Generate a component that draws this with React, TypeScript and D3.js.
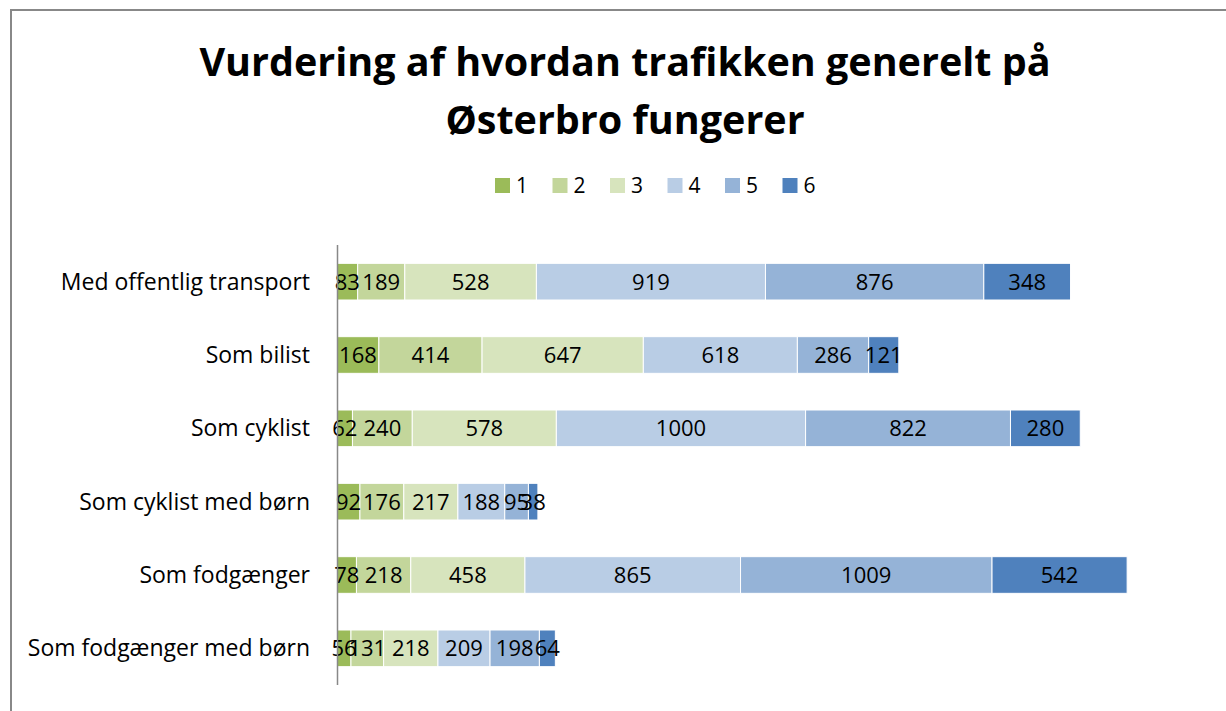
import { useEffect, useRef } from "react";
import * as d3 from "d3";

const categories = [
  "Med offentlig transport",
  "Som bilist",
  "Som cyklist",
  "Som cyklist med børn",
  "Som fodgænger",
  "Som fodgænger med børn",
];
const seriesNames = ["1", "2", "3", "4", "5", "6"];
const s1 = [83, 168, 62, 92, 78, 56];
const s2 = [189, 414, 240, 176, 218, 131];
const s3 = [528, 647, 578, 217, 458, 218];
const s4 = [919, 618, 1000, 188, 865, 209];
const s5 = [876, 286, 822, 95, 1009, 198];
const s6 = [348, 121, 280, 38, 542, 64];
const colors = ["#9bbb59", "#c3d69b", "#d7e4bd", "#b9cde5", "#95b3d7", "#4f81bd"];

const W = 1226;
const H = 711;
const FONT = "'Open Sans', Lato, sans-serif";

const App = () => {
  const ref = useRef<SVGSVGElement>(null);

  useEffect(() => {
    document.body.style.margin = "0";
    const svg = d3.select(ref.current);
    svg.selectAll("*").remove();

    // outer chart border (only top and left visible)
    svg.append("path")
      .attr("d", `M11,${H} L11,10 L${W},10`)
      .attr("fill", "none")
      .attr("stroke", "#888")
      .attr("stroke-width", 2);

    // title
    const title = svg.append("text")
      .attr("text-anchor", "middle")
      .attr("font-family", FONT)
      .attr("font-weight", "bold")
      .attr("font-size", 39.5)
      .attr("fill", "#000");
    title.append("tspan").attr("x", 625).attr("y", 76).text("Vurdering af hvordan trafikken generelt på");
    title.append("tspan").attr("x", 625).attr("y", 134).text("Østerbro fungerer");

    // legend
    const legend = svg.append("g").attr("transform", "translate(495,178)");
    seriesNames.forEach((name, i) => {
      const g = legend.append("g").attr("transform", `translate(${i * 57.5},0)`);
      g.append("rect").attr("width", 15).attr("height", 15).attr("fill", colors[i]);
      g.append("text")
        .attr("x", 21)
        .attr("y", 15)
        .attr("font-family", FONT)
        .attr("font-size", 21)
        .text(name);
    });

    const rows = categories.map((c, i) => ({
      cat: c,
      values: [s1[i], s2[i], s3[i], s4[i], s5[i], s6[i]],
    }));

    const x = d3.scaleLinear().domain([0, 4000]).range([337, 337 + 997]);
    const y = d3.scaleBand<string>().domain(categories).range([245, 685]).paddingInner(0.5).paddingOuter(0.25);

    const stackData = rows.map((r) => {
      const o: Record<string, number | string> = { cat: r.cat };
      seriesNames.forEach((s, j) => (o[s] = r.values[j]));
      return o;
    });
    const stack = d3.stack<Record<string, number | string>>().keys(seriesNames)(stackData as any);

    const bars = svg.append("g");
    stack.forEach((layer, i) => {
      const g = bars.append("g").attr("fill", colors[i]);
      g.selectAll("rect")
        .data(layer)
        .join("rect")
        .attr("x", (d) => x(d[0]))
        .attr("y", (d) => y(d.data.cat as string)!)
        .attr("width", (d) => x(d[1]) - x(d[0]))
        .attr("height", y.bandwidth())
        .attr("stroke", "#fff")
        .attr("stroke-width", 1);
    });

    // data labels
    stack.forEach((layer) => {
      bars.append("g")
        .selectAll("text")
        .data(layer)
        .join("text")
        .attr("x", (d) => (x(d[0]) + x(d[1])) / 2)
        .attr("y", (d) => y(d.data.cat as string)! + y.bandwidth() / 2 + 8)
        .attr("text-anchor", "middle")
        .attr("font-family", FONT)
        .attr("font-size", 22)
        .attr("fill", "#000")
        .text((d) => d[1] - d[0]);
    });

    // category axis
    svg.append("line")
      .attr("x1", 337.5).attr("x2", 337.5)
      .attr("y1", 245).attr("y2", 685)
      .attr("stroke", "#888").attr("stroke-width", 1.5);

    svg.append("g")
      .selectAll("text")
      .data(categories)
      .join("text")
      .attr("x", 310)
      .attr("y", (d) => y(d)! + y.bandwidth() / 2 + 8)
      .attr("text-anchor", "end")
      .attr("font-family", FONT)
      .attr("font-size", 23)
      .attr("fill", "#000")
      .text((d) => d);
  }, []);

  return <svg ref={ref} width={W} height={H} style={{ display: "block", background: "#fff" }} />;
};

export default App;
